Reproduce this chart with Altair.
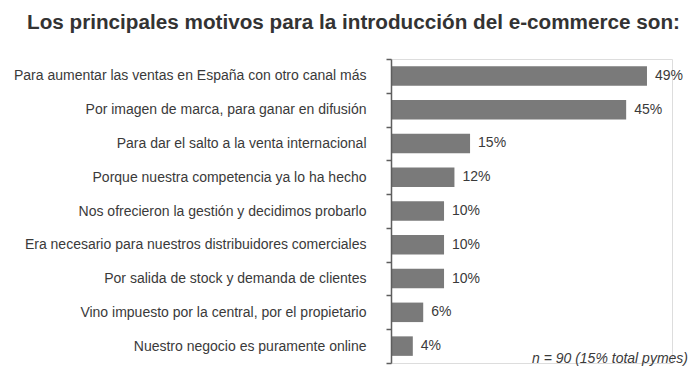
import altair as alt
import pandas as pd

titulo = "Los principales motivos para la introducción del e-commerce son:"
nota = "n = 90 (15% total pymes)"

motivos = [
    "Para aumentar las ventas en España con otro canal más",
    "Por imagen de marca, para ganar en difusión",
    "Para dar el salto a la venta internacional",
    "Porque nuestra competencia ya lo ha hecho",
    "Nos ofrecieron la gestión y decidimos probarlo",
    "Era necesario para nuestros distribuidores comerciales",
    "Por salida de stock y demanda de clientes",
    "Vino impuesto por la central, por el propietario",
    "Nuestro negocio es puramente online",
]
porcentajes = [49, 45, 15, 12, 10, 10, 10, 6, 4]
etiquetas = [f"{p}%" for p in porcentajes]

df = pd.DataFrame({"motivo": motivos, "pct": porcentajes, "etiqueta": etiquetas})

FONT = "Liberation Sans"
TXT = "#3a3a3a"
AXC = "#5e5e5e"

y_enc = alt.Y(
    "motivo:N",
    sort=motivos,
    title=None,
    scale=alt.Scale(paddingInner=0, paddingOuter=0),
    axis=alt.Axis(
        domain=True,
        ticks=True,
        tickBand="extent",
        tickSize=5,
        tickWidth=1.5,
        tickColor=AXC,
        domainColor=AXC,
        domainWidth=1.5,
        domainOpacity=1,
        tickOpacity=1,
        labelAlign="right",
        labelPadding=20,
        labelLimit=420,
        labelFont=FONT,
        labelFontSize=14,
        labelColor=TXT,
        grid=False,
        zindex=1,
    ),
)
x_enc = alt.X("pct:Q", scale=alt.Scale(domain=[0, 54]), axis=None)

base = alt.Chart(df).encode(y=y_enc, x=x_enc)

bars = base.mark_bar(color="#7a7a7a", size=19.5, xOffset=1)
vals = base.mark_text(align="left", dx=9, font=FONT, fontSize=14, color=TXT).encode(text="etiqueta:N")

titulo_layer = alt.Chart(pd.DataFrame({"t": [titulo]})).mark_text(
    align="left", baseline="alphabetic", font=FONT, fontSize=20.7, fontWeight="bold", color="#333333"
).encode(x=alt.value(-364), y=alt.value(-30), text="t:N")

nota_layer = alt.Chart(pd.DataFrame({"t": [nota]})).mark_text(
    align="right", baseline="alphabetic", font=FONT, fontSize=14, fontStyle="italic", color=TXT
).encode(x=alt.value(297), y=alt.value(304), text="t:N")

chart = alt.layer(bars, vals, titulo_layer, nota_layer).properties(
    width=281,
    height=304,
    autosize=alt.AutoSizeParams(type="none"),
    padding={"left": 383, "top": 51, "right": 16, "bottom": 15},
).configure_view(stroke=None).configure(background="white")

chart.save("out.html", embed_options={"renderer": "svg", "actions": False})
